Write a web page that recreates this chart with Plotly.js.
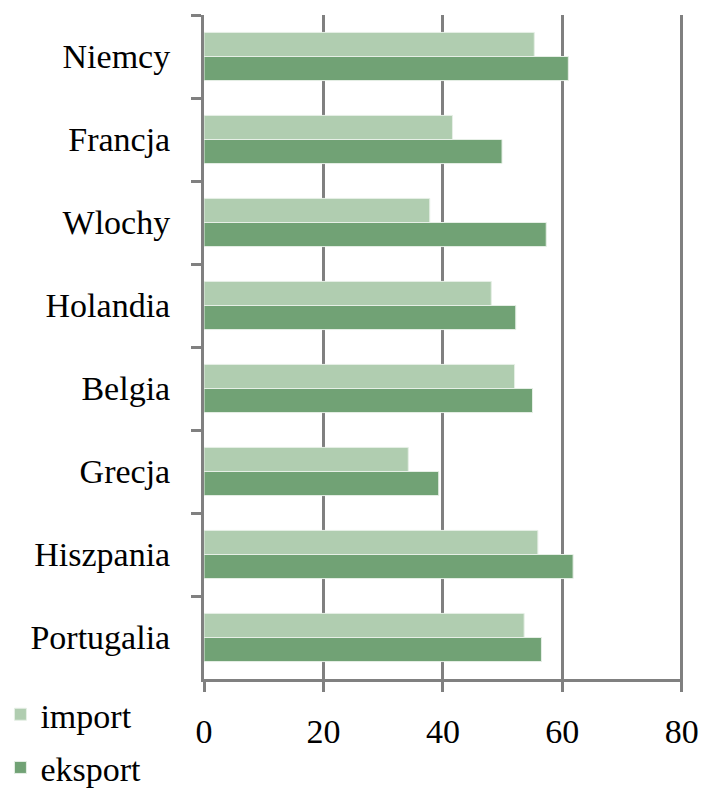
<!DOCTYPE html>
<html>
<head>
<meta charset="utf-8">
<script src="https://cdn.plot.ly/plotly-3.0.1.min.js"></script>
<style>html,body{margin:0;padding:0;background:#fff;}#chart{width:709px;height:789px;}</style>
</head>
<body>
<div id="chart"></div>
<script>
const categories = ["Niemcy", "Francja", "Wlochy", "Holandia", "Belgia", "Grecja", "Hiszpania", "Portugalia"];
const importValues = [55.3, 41.6, 37.8, 48.1, 52.0, 34.2, 55.9, 53.6];
const eksportValues = [61.0, 49.9, 57.3, 52.2, 55.0, 39.3, 61.8, 56.5];
const xTicks = [0, 20, 40, 60, 80];

const fontFamily = "Liberation Serif, Times New Roman, serif";

const traces = [
  {
    type: "bar", orientation: "h", name: "import", legendgroup: "a",
    y: categories, x: importValues,
    marker: {color: "#b0cdb0", line: {color: "#e6efe6", width: 1}}
  },
  {
    type: "bar", orientation: "h", name: "eksport", legendgroup: "b",
    y: categories, x: eksportValues,
    marker: {color: "#71a275", line: {color: "#e6efe6", width: 1}}
  }
];

const layout = {
  width: 709, height: 789,
  margin: {l: 204, r: 26, t: 15, b: 110, autoexpand: false},
  paper_bgcolor: "#fff", plot_bgcolor: "#fff",
  font: {family: fontFamily, size: 34, color: "#000"},
  barmode: "group", bargap: 0.42, bargroupgap: 0,
  showlegend: true,
  legend: {
    x: -0.425, xanchor: "left", y: -0.01, yanchor: "top",
    orientation: "v", font: {family: fontFamily, size: 34, color: "#000"},
    itemwidth: 30, tracegroupgap: 6, bgcolor: "rgba(0,0,0,0)", traceorder: "grouped"
  },
  xaxis: {
    range: [0, 80.2], tickvals: xTicks, ticktext: xTicks.map(String),
    showgrid: true, gridcolor: "#808080", gridwidth: 3,
    zeroline: false, showline: true, linecolor: "#808080", linewidth: 3,
    ticks: "outside", ticklen: 10, tickwidth: 3, tickcolor: "#808080",
    ticklabelstandoff: 10,
    tickfont: {family: fontFamily, size: 34, color: "#000"},
    fixedrange: true
  },
  yaxis: {
    type: "category", autorange: "reversed",
    showline: true, linecolor: "#808080", linewidth: 3,
    showgrid: false, zeroline: false,
    ticks: "outside", ticklen: 10, tickwidth: 3, tickcolor: "#808080",
    tickson: "boundaries", ticklabelstandoff: 24,
    tickfont: {family: fontFamily, size: 34, color: "#000"},
    fixedrange: true
  }
};

Plotly.newPlot("chart", traces, layout, {displayModeBar: false, staticPlot: true});
</script>
</body>
</html>
